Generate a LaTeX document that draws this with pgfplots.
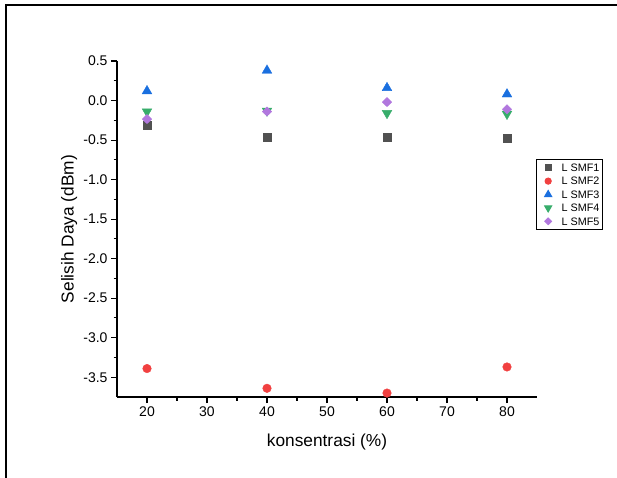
\documentclass[border=0pt]{standalone}
\usepackage{fontspec}
\setmainfont{Liberation Sans}
\usepackage{pgfplots}
\pgfplotsset{compat=1.18}
\definecolor{cA}{HTML}{515151}
\definecolor{cB}{HTML}{F14040}
\definecolor{cC}{HTML}{1A6FDF}
\definecolor{cD}{HTML}{37AD6B}
\definecolor{cE}{HTML}{B177DE}
\begin{document}
\begin{tikzpicture}[x=1pt,y=1pt]
\useasboundingbox (0,0) rectangle (617,477);
\draw[line width=2pt] (6,-5) -- (6,472) -- (630,472);
\begin{axis}[
  at={(117pt,80pt)}, anchor=south west,
  scale only axis, width=420pt, height=336pt,
  xmin=15, xmax=85, ymin=-3.75, ymax=0.5,
  axis x line*=bottom, axis y line*=left,
  axis line style={line width=1.3pt},
  xtick={20,30,40,50,60,70,80},
  ytick={-3.5,-3,-2.5,-2,-1.5,-1,-0.5,0,0.5},
  minor x tick num=1, minor y tick num=1,
  tick align=outside, major tick length=6pt, minor tick length=3.5pt,
  every tick/.style={black, line width=1.1pt},
  /pgf/number format/assume math mode=true,
  ticklabel style={font=\fontsize{14}{16}\selectfont},
  yticklabel style={/pgf/number format/.cd, fixed, fixed zerofill, precision=1},
  xlabel={konsentrasi (\%)},
  ylabel={Selisih Daya (dBm)},
  label style={font=\fontsize{17.3}{20}\selectfont},
  xlabel style={at={(axis description cs:0.5,-0.134)}, anchor=center},
  ylabel style={at={(axis description cs:-0.114,0.5)}, anchor=center},
  legend cell align=left,
  legend image code/.code={\path[draw=none,fill=none] (0pt,-3pt) rectangle (20pt,3pt);
    \draw[mark repeat=2,mark phase=2,#1,/tikz/every mark/.append style={scale=0.72}]
    plot coordinates {(0pt,0pt)(9.5pt,0pt)(19pt,0pt)};},
  legend style={at={(axis description cs:0.998,0.708)}, anchor=north west,
    draw=black, line width=1pt, font=\fontsize{10.8}{12}\selectfont,
    inner xsep=2pt, inner ysep=2.8pt,
    nodes={text height=7.6pt, text depth=0pt, inner ysep=1.5pt, inner xsep=1.5pt},
    row sep=2.8pt, column sep=1.5pt},
]
\addplot[only marks, mark=square*, mark size=4pt, cA]
  coordinates {(20,-0.31) (40,-0.47) (60,-0.47) (80,-0.48)};
\addlegendentry{L SMF1}
\addplot[only marks, mark=*, mark size=4.3pt, cB]
  coordinates {(20,-3.39) (40,-3.64) (60,-3.70) (80,-3.37)};
\addlegendentry{L SMF2}
\addplot[only marks, mark=triangle*, mark size=5.6pt, cC]
  coordinates {(20,0.12) (40,0.38) (60,0.16) (80,0.08)};
\addlegendentry{L SMF3}
\addplot[only marks, mark=triangle*, mark size=5.6pt, cD, mark options={rotate=180}]
  coordinates {(20,-0.14) (40,-0.13) (60,-0.16) (80,-0.17)};
\addlegendentry{L SMF4}
\addplot[only marks, mark=diamond*, mark size=4.6pt, cE, mark options={xscale=1.35}]
  coordinates {(20,-0.235) (40,-0.14) (60,-0.02) (80,-0.11)};
\addlegendentry{L SMF5}
\end{axis}
\end{tikzpicture}
\end{document}
